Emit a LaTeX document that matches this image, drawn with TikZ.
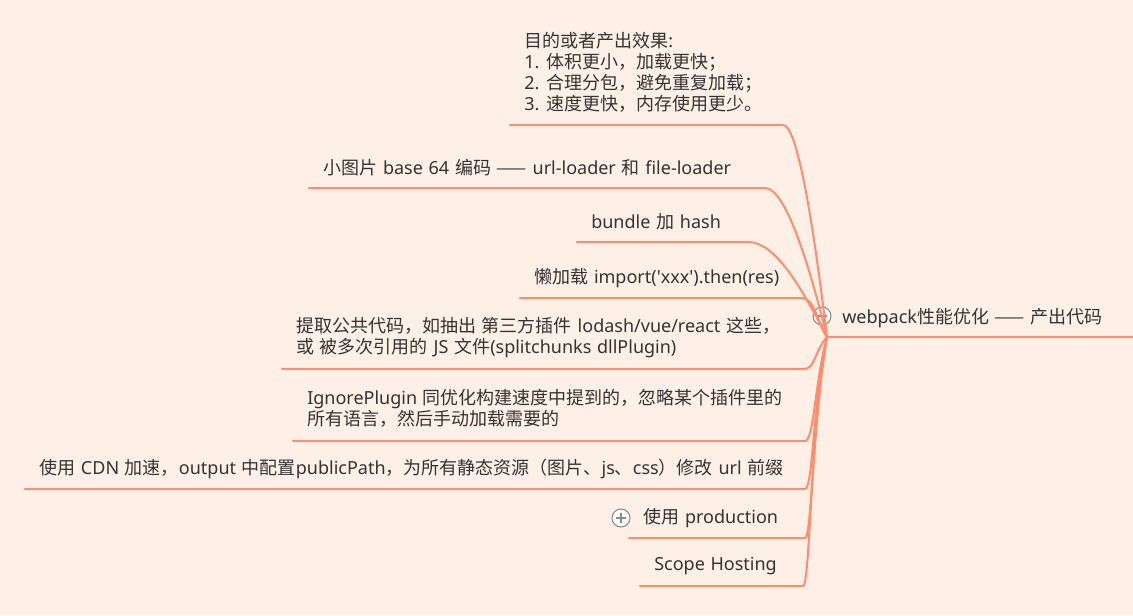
\documentclass[tikz,border=0pt]{standalone}
\usepackage{fontspec}
\setmainfont{Noto Sans}[Ligatures=TeXOff]
\newfontfamily\cjkf{Noto Sans CJK SC}[Ligatures=TeXOff]
\newfontfamily\latf{Noto Sans}[Ligatures=TeXOff]
\XeTeXinterchartokenstate=1
\newXeTeXintercharclass\CJKcls
\newcount\mycnt
\def\setcjkrange#1#2{\mycnt=#1\relax
  \loop \XeTeXcharclass\mycnt=\CJKcls \ifnum\mycnt<#2\relax \advance\mycnt by 1 \repeat}
\setcjkrange{"3000}{"303F}
\setcjkrange{"4E00}{"9FFF}
\setcjkrange{"FF00}{"FFEF}
\XeTeXcharclass"2014=\CJKcls
\XeTeXinterchartoks 0 \CJKcls = {\cjkf}
\XeTeXinterchartoks 4095 \CJKcls = {\cjkf}
\XeTeXinterchartoks \CJKcls 0 = {\latf}
\XeTeXinterchartoks \CJKcls 4095 = {\latf}
\newcommand\topicfont{\fontsize{13.5pt}{15.75pt}\selectfont\spaceskip=4.3pt plus 1pt minus 0.5pt\relax}
\definecolor{bgc}{HTML}{FEF0E6}
\definecolor{linec}{HTML}{FF8C6C}
\definecolor{txtc}{HTML}{333333}
\definecolor{iconc}{HTML}{8A8A8A}
\begin{document}
\begin{tikzpicture}[x=0.75pt,y=-0.75pt,
  topic/.style={anchor=west,inner sep=0pt,text=txtc,font=\topicfont,align=left},
  uline/.style={draw=linec,line width=1.6pt,line cap=round},
  conn/.style={draw=linec,line width=1.5pt},
  iconcirc/.style={circle,draw=iconc,fill=white,line width=0.8pt,minimum size=13.5pt,inner sep=0pt}]
\fill[bgc] (0,0) rectangle (1133,615);
\useasboundingbox (0,0) rectangle (1133,615);
% root
\coordinate (R) at (827,337);
\node[topic] (root) at (842,318) {webpack性能优化 —— 产出代码};
\coordinate (rootend) at (1133,337);
\draw[uline] (R) -- (rootend);
\node[iconcirc] (minus) at (822,316) {};
\draw[iconc,line width=1pt] ([xshift=-3.5pt]minus.center) -- ([xshift=3.5pt]minus.center);
% topics
\node[topic,anchor=north west] (t1) at (524,32) {目的或者产出效果:\\1. 体积更小，加载更快；\\2. 合理分包，避免重复加载；\\3. 速度更快，内存使用更少。};
\node[topic] (t2) at (323,168) {小图片 base 64 编码 —— url-loader 和 file-loader};
\node[topic] (t3) at (591,222) {bundle 加 hash};
\node[topic] (t4) at (534,278) {懒加载 import('xxx').then(res)};
\node[topic,anchor=north west] (t5) at (296,317) {提取公共代码，如抽出 第三方插件 lodash/vue/react 这些，\\或 被多次引用的 JS 文件(splitchunks dllPlugin)};
\node[topic,anchor=north west] (t6) at (307,389) {IgnorePlugin 同优化构建速度中提到的，忽略某个插件里的\\所有语言，然后手动加载需要的};
\node[topic] (t7) at (39,469) {使用 CDN 加速，output 中配置publicPath，为所有静态资源（图片、js、css）修改 url 前缀};
\node[topic] (t8) at (643,518) {使用 production};
\node[topic] (t9) at (654,566) {Scope Hosting};
\node[iconcirc] (plus) at (621,518) {};
\draw[iconc,line width=1pt] ([xshift=-3.5pt]plus.center) -- ([xshift=3.5pt]plus.center)
  ([yshift=-3.5pt]plus.center) -- ([yshift=3.5pt]plus.center);
% underline coordinates
\coordinate (s1) at (510,125); \coordinate (e1) at (783,125);
\coordinate (s2) at (309,188); \coordinate (e2) at (765,188);
\coordinate (s3) at (577,242); \coordinate (e3) at (748,242);
\coordinate (s4) at (520,298); \coordinate (e4) at (802,298);
\coordinate (s5) at (282,369); \coordinate (e5) at (804,369);
\coordinate (s6) at (293,441); \coordinate (e6) at (805,441);
\coordinate (s7) at (25,489);  \coordinate (e7) at (805,489);
\coordinate (s8) at (629,538); \coordinate (e8) at (805,538);
\coordinate (s9) at (640,586); \coordinate (e9) at (803,586);
% upper connectors
\draw[uline] (s1) -- (e1);
\draw[conn] (e1) .. controls (798,125) and (814,230) .. (R);
\draw[uline] (s2) -- (e2);
\draw[conn] (e2) .. controls (785,188) and (808,260) .. (R);
\draw[uline] (s3) -- (e3);
\draw[conn] (e3) .. controls (775,242) and (800,285) .. (R);
\draw[uline] (s4) -- (e4);
\draw[conn] (e4) .. controls (815,298) and (818,325) .. (R);
% lower connectors
\draw[uline] (s5) -- (e5);
\draw[conn] (e5) .. controls (815,369) and (815,350) .. (R);
\draw[uline] (s6) -- (e6);
\draw[conn] (e6) .. controls (814,441) and (815,380) .. (R);
\draw[uline] (s7) -- (e7);
\draw[conn] (e7) .. controls (813,489) and (813,400) .. (R);
\draw[uline] (s8) -- (e8);
\draw[conn] (e8) .. controls (812,538) and (812,420) .. (R);
\draw[uline] (s9) -- (e9);
\draw[conn] (e9) .. controls (810,586) and (810,440) .. (R);
\end{tikzpicture}
\end{document}
